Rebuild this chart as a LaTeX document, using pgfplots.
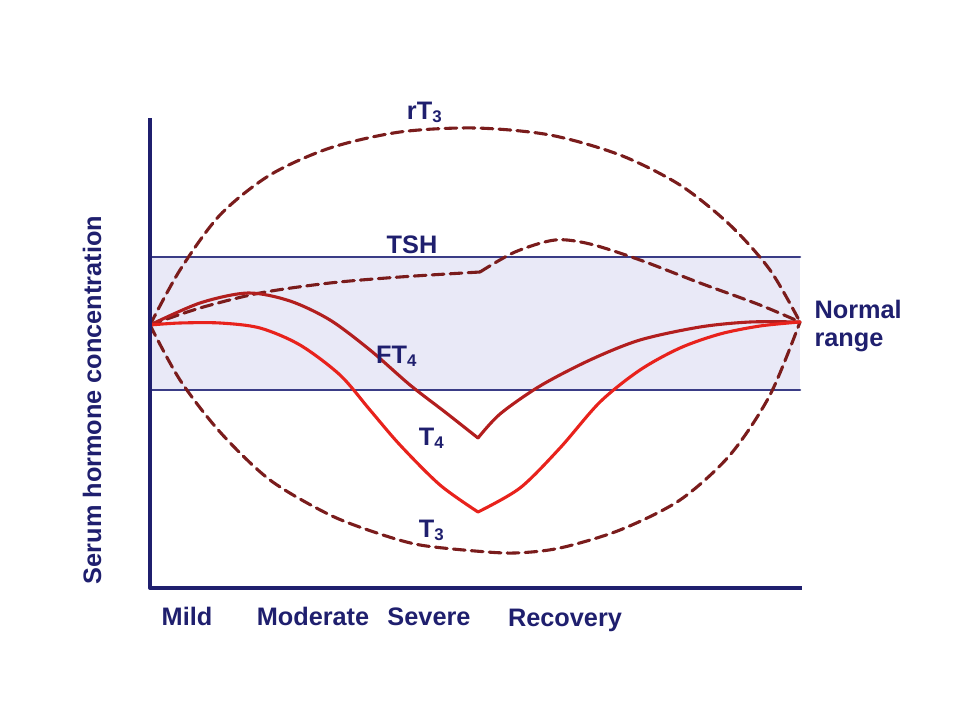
\documentclass[border=0pt]{standalone}
\usepackage{pgfplots}
\pgfplotsset{compat=1.18}
\usepackage{fontspec}
\setmainfont{Liberation Sans}
\definecolor{navy}{HTML}{1F1F6E}
\definecolor{bandline}{HTML}{3A3C86}
\definecolor{bandfill}{HTML}{E9E9F7}
\definecolor{darkred}{HTML}{7A1C1C}
\definecolor{midred}{HTML}{B21E1E}
\definecolor{brightred}{HTML}{E8221C}
\begin{document}
\begin{tikzpicture}
\begin{axis}[
  scale only axis, width=12cm, height=9cm,
  xmin=0, xmax=960, ymin=0, ymax=720, y dir=reverse,
  hide axis, clip=false,
  every axis plot/.append style={line cap=round, line join=round},
]
\draw[draw=none] (axis cs:0,0) rectangle (axis cs:960,720);
% normal range band
\addplot[draw=none, fill=bandfill] coordinates {(150,257) (800,257) (800,390) (150,390)} -- cycle;
\addplot[bandline, line width=0.9pt] coordinates {(150,257) (800,257)};
\addplot[bandline, line width=0.9pt] coordinates {(150,390) (800,390)};
% rT3
\addplot[darkred, line width=1.1pt, dash pattern=on 4.2pt off 2.2pt, smooth] coordinates {
(150,325) (180,270) (220,215) (270,175) (330,148) (400,132) (475,128) (550,135) (620,155) (680,185) (730,225) (770,270) (800,322)};
% T3
\addplot[darkred, line width=1.1pt, dash pattern=on 4.2pt off 2.2pt, smooth] coordinates {
(150,325) (180,380) (220,432) (270,480) (330,515) (380,534) (420,545) (475,551) (515,553) (560,548) (620,530) (680,500) (730,455) (770,395) (800,322)};
% TSH
\addplot[darkred, line width=1.1pt, dash pattern=on 4.2pt off 2.2pt, smooth] coordinates {
(150,325) (200,308) (260,293) (330,283) (400,277) (480,272)};
\addplot[darkred, line width=1.1pt, dash pattern=on 4.2pt off 2.2pt, smooth] coordinates {
(480,272) (515,252) (555,240) (590,244) (640,260) (700,283) (760,305) (800,322)};
% FT4
\addplot[midred, line width=1.1pt, smooth] coordinates {
(150,325) (200,303) (248,293) (290,301) (330,320) (370,350) (410,385) (445,412) (478,438)};
\addplot[midred, line width=1.1pt, smooth] coordinates {
(478,438) (500,414) (540,386) (590,360) (640,340) (700,327) (750,322) (800,322)};
% T4
\addplot[brightred, line width=1.1pt, smooth] coordinates {
(150,325) (180,323) (220,323) (260,328) (300,345) (340,375) (370,410) (400,445) (440,485) (478,512)};
\addplot[brightred, line width=1.1pt, smooth] coordinates {
(478,512) (520,488) (560,448) (600,402) (640,370) (680,348) (720,334) (760,326) (800,322)};
% axis lines
\addplot[navy, line width=1.2pt, line cap=rect] coordinates {(150,120) (150,588) (800,588)};
% labels
\begin{scope}[every node/.style={font=\bfseries\fontsize{9}{10}\selectfont, text=navy, inner sep=0pt}]
\node at (axis cs:425,112) {rT\textsubscript{3}};
\node at (axis cs:412,245) {TSH};
\node at (axis cs:397,356) {FT\textsubscript{4}};
\node at (axis cs:432,438) {T\textsubscript{4}};
\node at (axis cs:432,530) {T\textsubscript{3}};
\node[anchor=west, align=left] at (axis cs:814,326) {Normal\\range};
\node[anchor=base] at (axis cs:187,625) {Mild};
\node[anchor=base] at (axis cs:313,625) {Moderate};
\node[anchor=base] at (axis cs:429,625) {Severe};
\node[anchor=base] at (axis cs:565,627) {Recovery};
\node[rotate=90] at (axis cs:92,400) {Serum hormone concentration};
\end{scope}
\end{axis}
\end{tikzpicture}
\end{document}
